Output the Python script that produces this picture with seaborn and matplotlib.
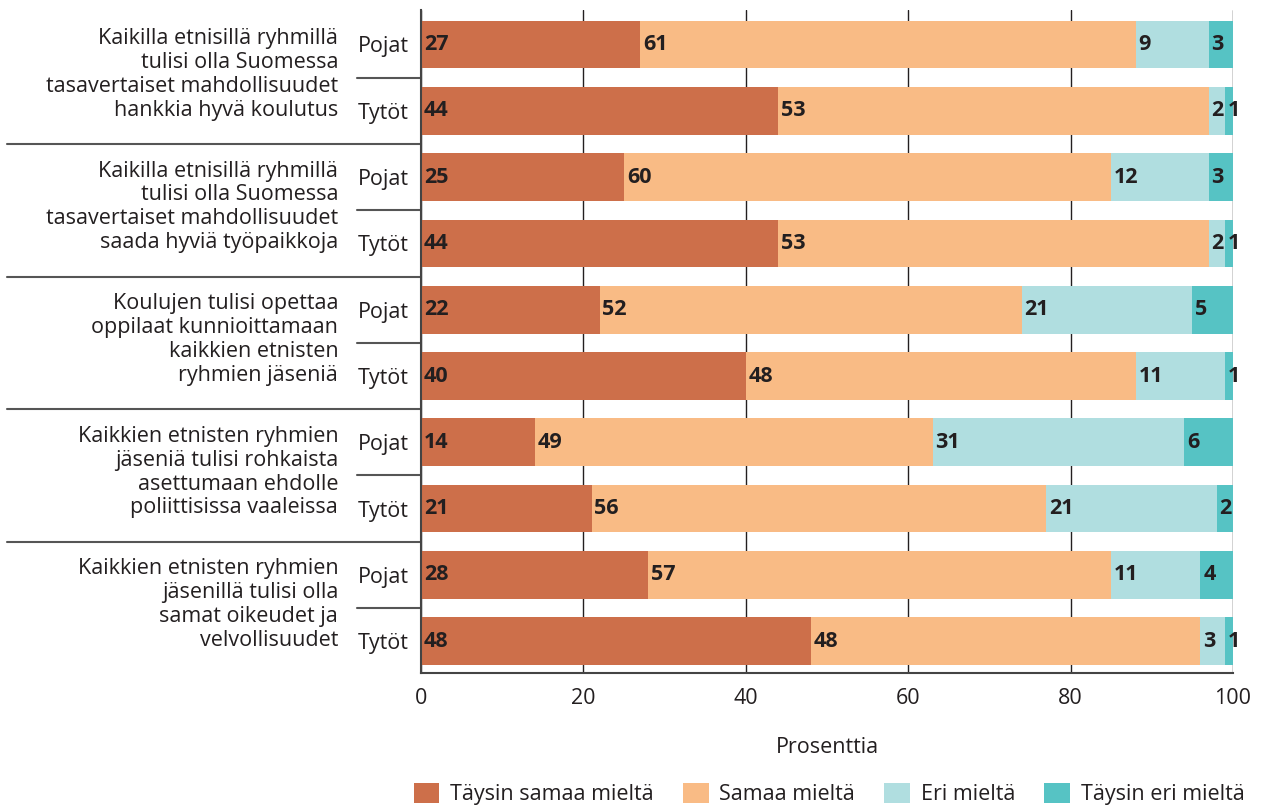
import numpy as np
import pandas as pd
import matplotlib.pyplot as plt
import matplotlib.transforms as mtransforms
from matplotlib.patches import Patch
import seaborn as sns

sns.set_theme(style="white")
plt.rcParams['font.family'] = ['Open Sans', 'DejaVu Sans']

# Data (percent)
rows = ["Pojat", "Tytöt"] * 5
statements = [
    "Kaikilla etnisillä ryhmillä\ntulisi olla Suomessa\ntasavertaiset mahdollisuudet\nhankkia hyvä koulutus",
    "Kaikilla etnisillä ryhmillä\ntulisi olla Suomessa\ntasavertaiset mahdollisuudet\nsaada hyviä työpaikkoja",
    "Koulujen tulisi opettaa\noppilaat kunnioittamaan\nkaikkien etnisten\nryhmien jäseniä",
    "Kaikkien etnisten ryhmien\njäseniä tulisi rohkaista\nasettumaan ehdolle\npoliittisissa vaaleissa",
    "Kaikkien etnisten ryhmien\njäsenillä tulisi olla\nsamat oikeudet ja\nvelvollisuudet",
]
taysin_samaa = [27, 44, 25, 44, 22, 40, 14, 21, 28, 48]
samaa = [61, 53, 60, 53, 52, 48, 49, 56, 57, 48]
eri = [9, 2, 12, 2, 21, 11, 31, 21, 11, 3]
taysin_eri = [3, 1, 3, 1, 5, 1, 6, 2, 4, 1]

series_names = ["Täysin samaa mieltä", "Samaa mieltä", "Eri mieltä", "Täysin eri mieltä"]
colors = ["#CD6F4A", "#F9BB85", "#B0DEE0", "#56C3C4"]
text_color = "#231F20"
fs = 15.5

df = pd.DataFrame({
    "key": [f"{i}" for i in range(len(rows))],
    "row": rows,
    series_names[0]: taysin_samaa,
    series_names[1]: samaa,
    series_names[2]: eri,
    series_names[3]: taysin_eri,
})
cum = df[series_names].cumsum(axis=1)

fig = plt.figure(figsize=(12.62, 8.07), dpi=100)
ax = fig.add_axes([0.3336, 0.166, 0.6434, 0.8216])

# stacked bars: draw cumulative totals from the longest to the shortest
for name, color in reversed(list(zip(series_names, colors))):
    sns.barplot(x=cum[name], y=df["key"], orient="h", color=color,
                width=0.72, saturation=1, linewidth=0, ax=ax, zorder=2)

# value labels at the start of each segment
for i in range(len(df)):
    left = 0
    for name in series_names:
        v = df.loc[i, name]
        ax.annotate(str(v), (left, i), xytext=(2, 0), textcoords="offset points",
                    ha="left", va="center", fontsize=fs, fontweight="bold",
                    color=text_color, zorder=3)
        left += v

ax.set_xlim(0, 100)
ax.set_ylim(len(df) - 0.52, -0.52)
ax.set_xticks(range(0, 101, 20))
ax.set_yticks(range(len(df)))
ax.set_yticklabels(rows)
ax.set_ylabel("")
ax.set_xlabel("Prosenttia", fontsize=fs, color=text_color, labelpad=20)
ax.tick_params(axis="both", length=0, labelsize=fs, colors=text_color)
ax.tick_params(axis="x", pad=11)
ax.tick_params(axis="y", pad=9)
ax.grid(axis="x", color=text_color, linewidth=1, zorder=0)
ax.set_axisbelow(True)
for s in ["top", "right"]:
    ax.spines[s].set_visible(False)
for s in ["left", "bottom"]:
    ax.spines[s].set_color("#444444")
    ax.spines[s].set_linewidth(1.5)

# statement labels and separator lines left of the axes
trans = mtransforms.blended_transform_factory(ax.transAxes, ax.transData)
for g, text in enumerate(statements):
    ax.text(-0.102, 2 * g + 0.45, text, transform=trans, ha="right", va="center",
            fontsize=fs, linespacing=1.18, color=text_color)
    ax.plot([-0.0788, 0], [2 * g + 0.5] * 2, transform=trans, clip_on=False,
            color="#555555", lw=1.5)
    if g > 0:
        ax.plot([-0.51, 0], [2 * g - 0.5] * 2, transform=trans, clip_on=False,
                color="#555555", lw=1.5)

handles = [Patch(facecolor=c, edgecolor="none") for c in colors]
fig.legend(handles, series_names, loc="center", bbox_to_anchor=(0.657, 0.016),
           ncol=4, frameon=False, fontsize=fs, handlelength=1.2, handleheight=1.05,
           handletextpad=0.5, columnspacing=1.35, labelcolor=text_color)

fig.savefig("out.png", dpi=100)
